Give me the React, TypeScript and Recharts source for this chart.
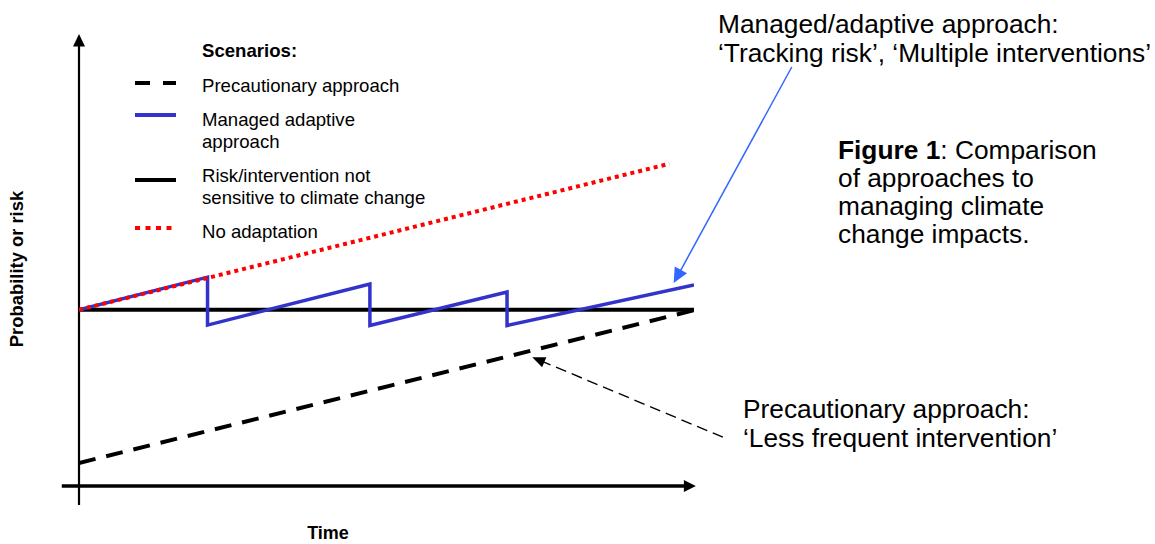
import React from "react";
import { LineChart, Line, XAxis, YAxis, ReferenceLine, Legend } from "recharts";

// ---------- data ----------
const TIME_DOMAIN = [0, 10];
const RISK_DOMAIN = [0, 100];

const precautionT = [0, 10];
const precautionR = [5.1, 38.9];

const managedT = [0, 2.09, 2.09, 4.73, 4.73, 6.96, 6.96, 10];
const managedR = [39, 46.2, 35.6, 44.7, 35.5, 42.9, 35.5, 44.5];

const baselineT = [0, 10];
const baselineR = [39, 39];

const noAdaptT = [0, 9.6];
const noAdaptR = [39, 71.3];

const seriesNames = [
  "Precautionary approach",
  "Managed adaptive\napproach",
  "Risk/intervention not\nsensitive to climate change",
  "No adaptation",
];

const legendTitle = "Scenarios:";
const xLabel = "Time";
const yLabel = "Probability or risk";

const managedNote = ["Managed/adaptive approach:", "\u2018Tracking risk\u2019, \u2018Multiple interventions\u2019"];
const precautionNote = ["Precautionary approach:", "\u2018Less frequent intervention\u2019"];
const captionBold = "Figure 1";
const captionLines = [": Comparison", "of approaches to", "managing climate", "change impacts."];

// axis & annotation arrows (in data units: time, risk)
const xAxisArrow = [{ x: -0.28, y: 0 }, { x: 10.03, y: 0 }];
const yAxisArrow = [{ x: 0, y: -4.2 }, { x: 0, y: 100 }];
const managedPointer = [{ x: 11.59, y: 92.7 }, { x: 9.67, y: 44.9 }];
const precautionPointer = [{ x: 10.47, y: 10.8 }, { x: 7.37, y: 28.5 }];

const toPoints = (ts: number[], rs: number[]) => ts.map((t, i) => ({ t, r: rs[i] }));

const precautionData = toPoints(precautionT, precautionR);
const managedData = toPoints(managedT, managedR);
const baselineData = toPoints(baselineT, baselineR);
const noAdaptData = toPoints(noAdaptT, noAdaptR);

// ---------- styles ----------
const FONT = "'Liberation Sans', Arial, Helvetica, sans-serif";
const STYLES = [
  { stroke: "#000000", width: 4, dash: "15 13" },
  { stroke: "#3333cc", width: 4, dash: undefined },
  { stroke: "#000000", width: 4, dash: undefined },
  { stroke: "#ff0000", width: 4, dash: "5 5.5" },
];

const arrowShape =
  (color: string, width: number, head: number, halfW: number, dash?: string) =>
  (props: any) => {
    const x1 = Number(props.x1), y1 = Number(props.y1), x2 = Number(props.x2), y2 = Number(props.y2);
    const dx = x2 - x1, dy = y2 - y1;
    const len = Math.hypot(dx, dy) || 1;
    const ux = dx / len, uy = dy / len;
    const bx = x2 - ux * head, by = y2 - uy * head;
    const px = -uy, py = ux;
    const pts = `${x2},${y2} ${bx + px * halfW},${by + py * halfW} ${bx - px * halfW},${by - py * halfW}`;
    return (
      <g>
        <line x1={x1} y1={y1} x2={bx + ux * 1} y2={by + uy * 1} stroke={color} strokeWidth={width} strokeDasharray={dash} />
        <polygon points={pts} fill={color} />
      </g>
    );
  };

const LEGEND_LEFT = 130;
const LEGEND_TOP = 36;
const legendSampleY = [83, 115, 180, 228];
const legendTextY = [92, 126, 182, 238];

const LegendBox = () => (
  <svg width={330} height={215} style={{ display: "block", overflow: "visible" }}>
    <text x={202 - LEGEND_LEFT} y={57 - LEGEND_TOP} fontFamily={FONT} fontSize={18.6} fontWeight="bold" fill="#000">
      {legendTitle}
    </text>
    {seriesNames.map((name, i) => {
      const s = STYLES[i];
      const sy = legendSampleY[i] - LEGEND_TOP;
      return (
        <g key={i}>
          <line
            x1={135 - LEGEND_LEFT}
            x2={(i === 3 ? 173 : 176) - LEGEND_LEFT}
            y1={sy}
            y2={sy}
            stroke={s.stroke}
            strokeWidth={s.width}
            strokeDasharray={s.dash}
          />
          <text x={202 - LEGEND_LEFT} y={legendTextY[i] - LEGEND_TOP} fontFamily={FONT} fontSize={18.6} fill="#000">
            {name.split("\n").map((ln, j) => (
              <tspan key={j} x={202 - LEGEND_LEFT} dy={j === 0 ? 0 : 21.6}>
                {ln}
              </tspan>
            ))}
          </text>
        </g>
      );
    })}
  </svg>
);

export default function App() {
  return (
    <div style={{ position: "absolute", left: 0, top: 0, width: 1155, height: 544, background: "#fff" }}>
      <LineChart
        width={1155}
        height={544}
        margin={{ top: 34, right: 461, bottom: 58, left: 79 }}
      >
        <XAxis type="number" dataKey="t" domain={TIME_DOMAIN} allowDataOverflow hide />
        <YAxis type="number" dataKey="r" domain={RISK_DOMAIN} allowDataOverflow hide />
        <ReferenceLine
          segment={xAxisArrow}
          ifOverflow="visible"
          stroke="#000"
          shape={arrowShape("#000", 3.3, 12, 6)}
        />
        <ReferenceLine
          segment={yAxisArrow}
          ifOverflow="visible"
          stroke="#000"
          shape={arrowShape("#000", 2.2, 12.5, 6)}
        />
        <Line
          data={precautionData}
          dataKey="r"
          name={seriesNames[0]}
          stroke={STYLES[0].stroke}
          strokeWidth={4}
          strokeDasharray="17 11"
          dot={false}
          activeDot={false}
          isAnimationActive={false}
        />
        <Line
          data={baselineData}
          dataKey="r"
          name={seriesNames[2]}
          stroke={STYLES[2].stroke}
          strokeWidth={4}
          dot={false}
          activeDot={false}
          isAnimationActive={false}
        />
        <Line
          data={managedData}
          dataKey="r"
          name={seriesNames[1]}
          stroke={STYLES[1].stroke}
          strokeWidth={3.5}
          strokeLinejoin="miter"
          dot={false}
          activeDot={false}
          isAnimationActive={false}
        />
        <Line
          data={noAdaptData}
          dataKey="r"
          name={seriesNames[3]}
          stroke={STYLES[3].stroke}
          strokeWidth={4}
          strokeDasharray="4 4"
          dot={false}
          activeDot={false}
          isAnimationActive={false}
        />
        <ReferenceLine
          segment={managedPointer}
          ifOverflow="visible"
          stroke="#3366ff"
          shape={arrowShape("#3366ff", 1.5, 15, 7)}
        />
        <ReferenceLine
          segment={precautionPointer}
          ifOverflow="visible"
          stroke="#000"
          shape={arrowShape("#000", 1.4, 13, 5.5, "11 6")}
        />
        <Legend
          layout="horizontal"
          verticalAlign="middle"
          align="center"
          wrapperStyle={{ left: LEGEND_LEFT, top: LEGEND_TOP, width: 330, height: 215 }}
          content={() => <LegendBox />}
        />
      </LineChart>
      <svg
        width={1155}
        height={544}
        style={{ position: "absolute", left: 0, top: 0, pointerEvents: "none" }}
        fontFamily={FONT}
      >
        <text x={22.8} y={269} transform="rotate(-90 22.8 269)" textAnchor="middle" fontSize={18.4} fontWeight="bold" fill="#000">
          {yLabel}
        </text>
        <text x={328} y={539} textAnchor="middle" fontSize={18} fontWeight="bold" fill="#000">
          {xLabel}
        </text>
        <text x={718} y={33} fontSize={26.3} fill="#000">
          {managedNote.map((ln, j) => (
            <tspan key={j} x={718} dy={j === 0 ? 0 : 28.5}>
              {ln}
            </tspan>
          ))}
        </text>
        <text x={743} y={418} fontSize={26.3} fill="#000">
          {precautionNote.map((ln, j) => (
            <tspan key={j} x={743} dy={j === 0 ? 0 : 29}>
              {ln}
            </tspan>
          ))}
        </text>
        <text x={838} y={159} fontSize={26.3} fill="#000">
          <tspan fontWeight="bold">{captionBold}</tspan>
          <tspan>{captionLines[0]}</tspan>
          {captionLines.slice(1).map((ln, j) => (
            <tspan key={j} x={838} dy={28}>
              {ln}
            </tspan>
          ))}
        </text>
      </svg>
    </div>
  );
}
